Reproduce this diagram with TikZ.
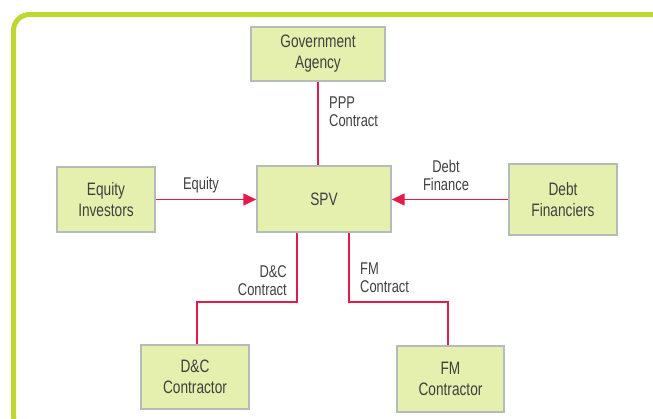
\documentclass[tikz,border=0pt]{standalone}
\usepackage{fontspec}
\setmainfont{Liberation Sans}[FakeStretch=0.76]
\usetikzlibrary{arrows.meta,positioning}
\definecolor{framegreen}{HTML}{BFD730}
\definecolor{boxfill}{HTML}{E5EFAE}
\definecolor{boxline}{HTML}{B3BBBB}
\definecolor{connred}{HTML}{E21C48}
\definecolor{txt}{HTML}{404040}
\tikzset{
  box/.style={draw=boxline, line width=1.4pt, fill=boxfill, align=center, inner sep=0pt,
    text=txt, font=\fontsize{18}{21}\selectfont},
  conn/.style={draw=connred, line width=1.5pt},
  arr/.style={conn, -{Triangle[length=13pt,width=12pt]}},
  lbl/.style={text=txt, font=\fontsize{17}{18}\selectfont, inner sep=0pt},
}
\begin{document}
\begin{tikzpicture}[x=1pt,y=-1pt]
\useasboundingbox (0,0) rectangle (653,418);
\begin{scope}
\clip (0,0) rectangle (653,418);
\draw[framegreen, line width=5pt, rounded corners=16pt] (13.5,14.5) rectangle (668,432);
\end{scope}
\node[box, minimum width=134pt, minimum height=54pt] (gov) at (318,54) {Government\\Agency};
\node[box, minimum width=98pt, minimum height=65pt] (eq) at (106,199.5) {Equity\\Investors};
\node[box, minimum width=134pt, minimum height=66pt] (spv) at (324,199) {SPV};
\node[box, minimum width=108pt, minimum height=71pt] (debt) at (563,199.5) {Debt\\Financiers};
\node[box, minimum width=108pt, minimum height=64pt] (dc) at (195,377) {D\&C\\Contractor};
\node[box, minimum width=107pt, minimum height=66pt] (fm) at (450.5,379) {FM\\Contractor};

\draw[conn] (gov.south) -- (gov.south |- spv.north);
\draw[arr] (eq.east) -- (eq.east -| spv.west);
\draw[arr] (debt.west) -- (debt.west -| spv.east);
\draw[conn] ([xshift=-27pt]spv.south) -- ([xshift=-27pt]spv.south |- 0,302) -| ([xshift=2pt]dc.north);
\draw[conn] ([xshift=25pt]spv.south) -- ([xshift=25pt]spv.south |- 0,302) -| ([xshift=-2.5pt]fm.north);

\node[lbl, align=left, anchor=west] (lppp) at (329,112) {PPP\\Contract};
\node[lbl] (leq) at (201,185) {Equity};
\node[lbl, align=center] (ldebt) at (446,175) {Debt\\Finance};
\node[lbl, align=right, anchor=east] (ldc) at (287,281) {D\&C\\Contract};
\node[lbl, align=left, anchor=west] (lfm) at (360,278) {FM\\Contract};
\end{tikzpicture}
\end{document}
